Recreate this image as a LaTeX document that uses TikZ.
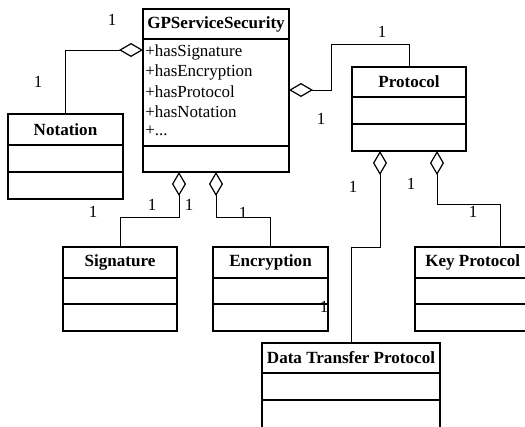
\documentclass[tikz,border=0pt]{standalone}
\usepackage{fontspec}
\setmainfont{Liberation Serif}
\usetikzlibrary{arrows.meta}
\begin{document}
\begin{tikzpicture}[x=0.75pt,y=-0.75pt,
  box/.style={draw, line width=0.9pt, anchor=north west, inner sep=0pt, outer sep=0pt},
  ttl/.style={font=\fontsize{12.8}{15}\selectfont\bfseries, inner sep=0pt},
  attr/.style={font=\fontsize{12.7}{15}\selectfont, anchor=west, inner sep=0pt},
  sep/.style={line width=0.9pt},
  conn/.style={line width=0.6pt},
  agg/.style={conn, {Diamond[open,length=18pt,width=10.5pt,line width=0.9pt]}-},
  lbl/.style={font=\fontsize{12.7}{15}\selectfont, inner sep=0pt}]
\useasboundingbox (0,0) rectangle (525,426);
\clip (0,0) rectangle (525,426);

% GPServiceSecurity
\node[box, minimum width=109.5pt, minimum height=122.25pt] (gp) at (143,9) {};
\node[ttl] (gpt) at (216,24) {GPServiceSecurity};
\draw[sep] (143,39) -- (289,39);
\draw[sep] (143,146) -- (289,146);
\node[attr] (a1) at (145,52) {+hasSignature};
\node[attr] (a2) at (145,72) {+hasEncryption};
\node[attr] (a3) at (145,92) {+hasProtocol};
\node[attr] (a4) at (145,112) {+hasNotation};
\node[attr] (a5) at (145,131) {+...};

% Notation
\node[box, minimum width=86.25pt, minimum height=63.75pt] (nota) at (8,114) {};
\node[ttl] (notat) at (65.5,130) {Notation};
\draw[sep] (8,145) -- (123,145);
\draw[sep] (8,172) -- (123,172);

% Protocol
\node[box, minimum width=85.5pt, minimum height=63pt] (prot) at (352,67) {};
\node[ttl] (prott) at (409,82) {Protocol};
\draw[sep] (352,97) -- (466,97);
\draw[sep] (352,124) -- (466,124);

% Signature
\node[box, minimum width=85.5pt, minimum height=63pt] (sig) at (63,247) {};
\node[ttl] (sigt) at (120,262) {Signature};
\draw[sep] (63,278) -- (177,278);
\draw[sep] (63,304) -- (177,304);

% Encryption
\node[box, minimum width=86.25pt, minimum height=63pt] (enc) at (213,247) {};
\node[ttl] (enct) at (270.5,262) {Encryption};
\draw[sep] (213,278) -- (328,278);
\draw[sep] (213,304) -- (328,304);

% Key Protocol
\node[box, minimum width=127.5pt, minimum height=63pt] (key) at (415,247) {};
\node[ttl, anchor=west] (keyt) at (425,262) {Key Protocol};
\draw[sep] (415,278) -- (585,278);
\draw[sep] (415,304) -- (585,304);

% Data Transfer Protocol
\node[box, minimum width=133.5pt, minimum height=90pt] (dtp) at (262,343) {};
\node[ttl] (dtpt) at (351,358) {Data Transfer Protocol};
\draw[sep] (262,373) -- (440,373);
\draw[sep] (262,400) -- (440,400);

% connection points
\coordinate (gpN) at (143,50);
\coordinate (gpP) at (289,90);
\coordinate (gpS) at (179,172);
\coordinate (gpE) at (216,172);
\coordinate (prD) at (380,151);
\coordinate (prK) at (437,151);

\draw[agg] (gpN) -| (nota.north);
\draw[agg] (gpS) -- (179,217) -| (sig.north);
\draw[agg] (gpE) -- (216,217) -| (enc.north);
\draw[agg] (gpP) -- (331,90) -- (331,44) -| (prot.north);
\draw[agg] (prD) -- (380,247) -| (dtp.north);
\draw[agg] (prK) -- (437,204) -| (key.north);

% multiplicities
\node[lbl] (m1) at (112,20) {1};
\node[lbl] (m2) at (38,82) {1};
\node[lbl] (m3) at (382,32) {1};
\node[lbl] (m4) at (321,119) {1};
\node[lbl] (m5) at (93,212) {1};
\node[lbl] (m6) at (152,205) {1};
\node[lbl] (m7) at (189,205) {1};
\node[lbl] (m8) at (243,213) {1};
\node[lbl] (m9) at (353,187) {1};
\node[lbl] (m10) at (411,184) {1};
\node[lbl] (m11) at (473,212) {1};
\node[lbl] (m12) at (324,307) {1};
\end{tikzpicture}
\end{document}
